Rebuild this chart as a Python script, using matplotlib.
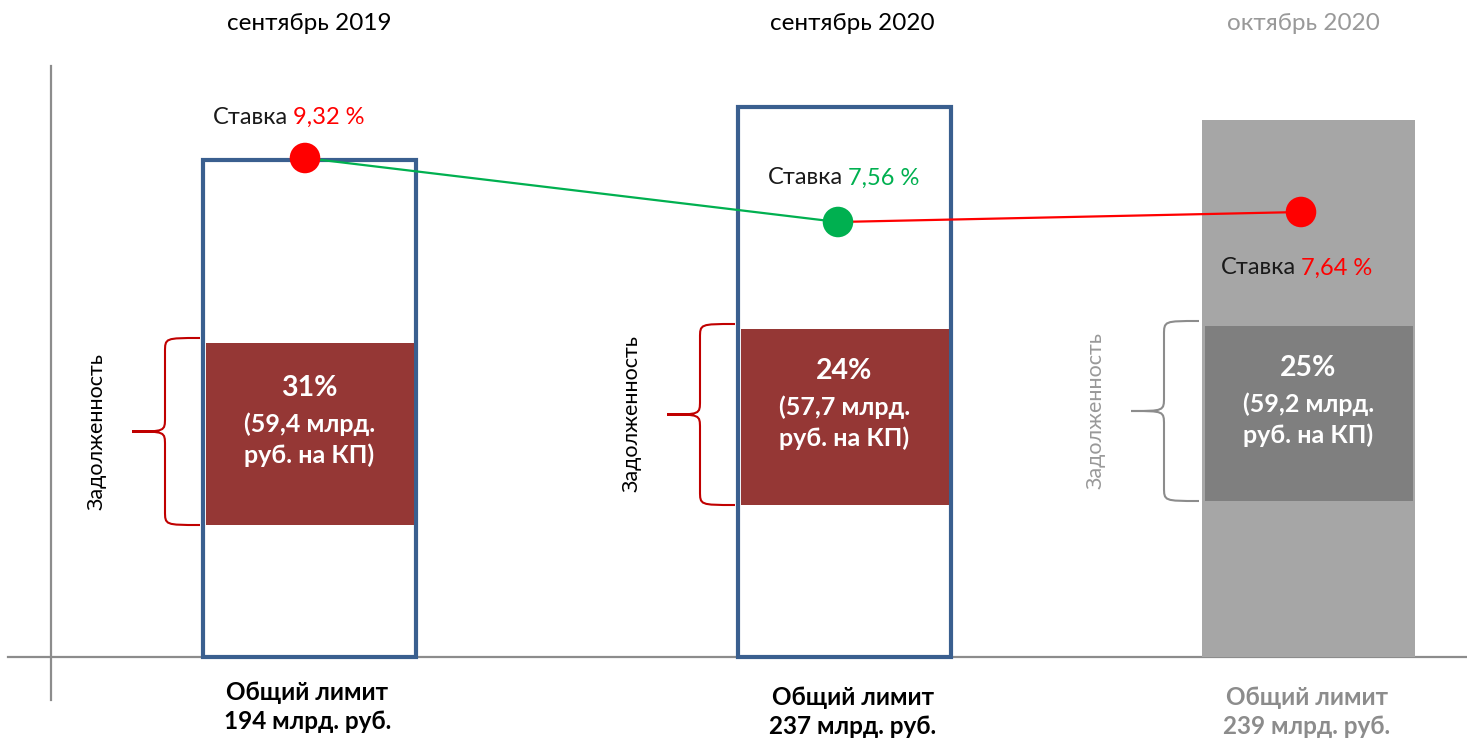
import numpy as np
import matplotlib
matplotlib.use("Agg")
import matplotlib.pyplot as plt
from matplotlib.patches import PathPatch
from matplotlib.path import Path

plt.rcParams['font.family'] = ['Lato', 'DejaVu Sans']

# ---- данные ----
months = ["сентябрь 2019", "сентябрь 2020", "октябрь 2020"]
limit_bn = ["194", "237", "239"]
debt_pct = [31, 24, 25]
debt_bn = ["59,4", "57,7", "59,2"]
rate_txt = ["9,32", "7,56", "7,64"]
# высоты в условных единицах схемы
limit_h = np.array([497, 550, 537])
debt_lo = np.array([132, 152, 156])
debt_hi = np.array([314, 328, 331])
rate_h = np.array([499, 435, 445])

# ---- раскладка / стиль ----
xc = np.array([309.5, 844.5, 1308.5])
BW = 213
BLUE = "#3A5F8F"
DRED = "#953735"
GRAY = "#A6A6A6"
DGRAY = "#7F7F7F"
TGRAY = "#999999"
RED = "#FF0000"
GREEN = "#00B050"
dot_c = [RED, GREEN, RED]
seg_c = [GREEN, RED]
brace_c = ["#C00000", "#C00000", "#8C8C8C"]
lab_c = ["black", "black", TGRAY]
title_dx = [0, 8, -5]
bottom_dx = [-2, 8, -2]
bottom_dy = [0, -5, -5]

fig = plt.figure(figsize=(14.67, 7.4), dpi=100)
ax = fig.add_axes([0, 0, 1, 1])
ax.set_xlim(0, 1467)
ax.set_ylim(-83, 657)
ax.axis("off")

# оси
ax.axhline(0, xmin=8 / 1467, xmax=1, color="#8C8C8C", lw=1.6, zorder=1)
ax.plot([51, 51], [591, -43], color="#8C8C8C", lw=1.6, zorder=1)

# столбцы "общий лимит"
ax.bar(xc[:2], limit_h[:2], width=BW, facecolor="white", edgecolor=BLUE, lw=3, zorder=2)
ax.bar(xc[2], limit_h[2], width=BW, color=GRAY, lw=0, zorder=2)
# задолженность
ax.bar(xc, debt_hi - debt_lo, bottom=debt_lo, width=BW - 5,
       color=[DRED, DRED, DGRAY], lw=0, zorder=3)


def brace(x_r, y0, y1, color):
    xm = x_r - 35
    xl = x_r - 68
    yc = (y0 + y1) / 2
    r = 14
    verts = [(x_r, y1), (xm, y1), (xm, y1), (xm, y1 - r),
             (xm, yc + r), (xm, yc), (xm, yc), (xl, yc),
             (xm, yc), (xm, yc), (xm, yc - r),
             (xm, y0 + r), (xm, y0), (xm, y0), (x_r, y0)]
    codes = [Path.MOVETO, Path.CURVE4, Path.CURVE4, Path.CURVE4,
             Path.LINETO, Path.CURVE4, Path.CURVE4, Path.CURVE4,
             Path.CURVE4, Path.CURVE4, Path.CURVE4,
             Path.LINETO, Path.CURVE4, Path.CURVE4, Path.CURVE4]
    ax.add_patch(PathPatch(Path(verts, codes), fc="none", ec=color, lw=1.5, zorder=3))


for i in range(3):
    left = xc[i] - BW / 2
    mid = (debt_lo[i] + debt_hi[i]) / 2
    brace(left - 3, debt_lo[i], debt_hi[i] + 5, brace_c[i])
    ax.text(left - 106, mid + 3, "Задолженность", rotation=90, ha="center", va="center",
            fontsize=15.5, color=lab_c[i])
    ax.text(xc[i], mid + 46, f"{debt_pct[i]}%", ha="center", va="center",
            fontsize=20.5, fontweight="bold", color="white", zorder=4)
    ax.text(xc[i], mid - 6, f"({debt_bn[i]} млрд.\nруб. на КП)", ha="center", va="center",
            fontsize=18, fontweight="bold", color="white", linespacing=1.4, zorder=4)
    ax.text(xc[i] + title_dx[i], 634, months[i], ha="center", va="center",
            fontsize=17.5, color=lab_c[i])
    ax.text(xc[i] + bottom_dx[i], -50 + bottom_dy[i], f"Общий лимит\n{limit_bn[i]} млрд. руб.",
            ha="center", va="center", fontsize=17.5, fontweight="bold",
            color=["black", "black", "#8C8C8C"][i], linespacing=1.3)

# ставка
xd = xc + np.array([-4.5, -6.5, -7.5])
for i in range(2):
    ax.plot(xd[i:i + 2], rate_h[i:i + 2], color=seg_c[i], lw=1.6, zorder=5)
ax.scatter(xd, rate_h, s=22 ** 2, c=dot_c, zorder=6, lw=0)

lab_dx = [-15, 7, -3]
lab_dy = [41, 44, -56]
for i in range(3):
    xs = xd[i] + lab_dx[i]
    ys = rate_h[i] + lab_dy[i]
    ax.text(xs - 2, ys, "Ставка", ha="right", va="center", fontsize=17, color="#1A1A1A", zorder=6)
    ax.text(xs + 3, ys, f"{rate_txt[i]} %", ha="left", va="center", fontsize=17,
            color=dot_c[i], zorder=6)

fig.savefig("out.png", dpi=100)
